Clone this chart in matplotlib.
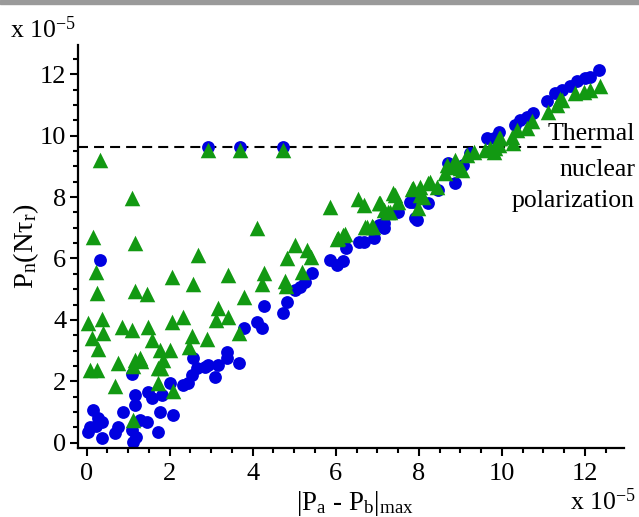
import numpy as np
import matplotlib.pyplot as plt
from matplotlib.ticker import MultipleLocator
from matplotlib.patches import Rectangle

plt.rcParams['font.family'] = ['Liberation Serif', 'DejaVu Serif']
plt.rcParams['mathtext.fontset'] = 'custom'
plt.rcParams['mathtext.rm'] = 'Liberation Serif'
plt.rcParams['mathtext.it'] = 'Liberation Serif:italic'

# blue circles
blue_x = [0.32, 1.08, 0.08, 0.16, 0.04, 0.28, 0.36, 0.22, 0.36, 0.68, 0.76, 0.87, 1.12, 1.08, 1.2,
          1.16, 1.16, 1.28, 1.45, 1.48, 1.57, 1.73, 1.77, 1.81, 2.0, 2.09, 2.33, 2.45, 2.57, 2.53,
          2.65, 2.85, 2.93, 3.09, 3.17, 3.37, 3.37, 3.68, 3.8, 4.1, 4.22, 4.27, 4.74, 4.82, 5.02,
          5.14, 5.26, 5.42, 2.93, 3.69, 4.74,
          5.85, 6.04, 6.18, 6.25, 6.55, 6.67, 6.91, 7.03, 7.15, 7.15, 7.51, 7.79, 7.87, 7.95, 7.91,
          8.23, 8.47, 8.71, 8.87, 9.07, 9.24, 9.64, 9.8, 9.92, 10.32, 10.44, 10.6, 10.76, 11.08,
          11.28, 11.45, 11.65, 11.82, 12.01, 12.13, 12.33]
blue_y = [5.95, 2.23, 0.52, 1.07, 0.36, 0.80, 0.68, 0.55, 0.14, 0.31, 0.52, 1.01, 0.03, 0.41, 0.2,
          1.55, 1.23, 0.74, 0.68, 1.66, 1.45, 0.36, 1.01, 1.55, 1.93, 0.90, 1.88, 1.93, 2.75, 2.2,
          2.42, 2.48, 2.53, 2.15, 2.53, 2.96, 2.75, 2.59, 3.73, 3.94, 3.73, 4.46, 4.23, 4.59, 4.97,
          5.08, 5.24, 5.52, 9.63, 9.63, 9.63,
          5.95, 5.79, 5.93, 6.33, 6.55, 6.55, 6.66, 7.09, 6.98, 7.15, 7.52, 7.85, 7.85, 7.25, 7.31,
          7.8, 8.23, 9.1, 8.47, 9.05, 9.43, 9.92, 9.92, 10.13, 10.35, 10.51, 10.62, 10.73, 11.11,
          11.38, 11.49, 11.6, 11.78, 11.87, 11.92, 12.14]

# green triangles
green_x = [0.32, 0.16, 1.08, 1.16, 4.1, 2.93, 3.69, 4.74, 2.69, 5.02, 5.3, 5.4, 4.83,
           0.22, 0.24, 0.04, 0.36, 0.14, 0.39, 0.28, 0.08, 0.24, 0.68, 0.76, 0.84, 1.08, 1.16,
           1.45, 1.48, 1.57, 1.12, 1.16, 1.28, 1.12, 1.32, 1.73, 1.73, 1.77, 1.85, 1.8, 2.0, 2.09,
           2.05, 2.05, 2.33, 2.57, 2.54, 2.47, 2.91, 3.17, 3.12, 3.41, 3.41, 3.68, 3.79, 4.26,
           4.22, 4.78, 4.8, 5.18,
           5.86, 6.02, 6.54, 6.67, 7.03, 6.71, 6.89, 6.22, 6.06, 6.18, 6.75, 6.87, 7.07, 7.15,
           7.27, 7.31, 7.39, 7.43, 7.51, 7.83, 7.87, 7.99, 8.03, 8.03, 8.11, 8.23, 8.27, 8.43,
           8.63, 8.67, 8.83, 8.87, 8.99, 9.04, 9.16, 9.32, 9.6, 9.72, 9.8, 9.84, 9.92, 9.92, 9.96,
           10.24, 10.28, 10.36, 10.6, 10.72, 11.12, 11.33, 11.45, 11.4, 11.77, 11.97, 12.13, 12.37]
green_y = [9.2, 6.71, 7.96, 6.51, 7.0, 9.53, 9.53, 9.53, 6.11, 6.44, 6.28, 6.06, 6.0,
           5.57, 4.89, 3.89, 4.02, 3.4, 3.56, 3.04, 2.37, 2.37, 1.85, 2.59, 3.76, 3.67, 4.94,
           4.84, 3.76, 3.35, 0.74, 2.69, 2.75, 2.5, 2.65, 1.93, 2.42, 3.02, 2.69, 2.45, 3.02, 1.68,
           3.94, 5.39, 4.08, 5.17, 3.48, 3.13, 3.37, 4.38, 4.0, 4.08, 5.46, 3.58, 4.74, 5.52,
           5.17, 5.28, 5.1, 5.57,
           7.69, 6.62, 7.93, 7.74, 7.8, 7.04, 7.04, 6.8, 6.66, 6.77, 7.01, 7.06, 7.8, 7.58,
           7.52, 7.52, 8.12, 8.07, 7.85, 8.25, 8.29, 7.63, 8.34, 8.07, 8.01, 8.45, 8.5, 8.34,
           8.78, 9.05, 8.99, 9.21, 8.94, 8.88, 9.37, 9.48, 9.53, 9.59, 9.48, 9.59, 9.7, 9.92, 9.93,
           9.97, 9.75, 10.19, 10.24, 10.46, 10.78, 11.0, 11.16, 11.2, 11.38, 11.43, 11.49, 11.6]

thermal = 9.63

fig = plt.figure(figsize=(6.39, 5.17), dpi=100)
fig.patches.append(Rectangle((0, 1 - 4 / 517.), 1, 4 / 517., transform=fig.transFigure,
                             color='#9a9a9a', zorder=0))
ax = fig.add_axes([0.122, 0.1335, 0.855, 0.7795])

ax.plot([-0.21, 12.54], [thermal, thermal], color='k', lw=1.5, dashes=(4.8, 2.9), zorder=1)
ax.scatter(blue_x, blue_y, s=85, marker='o', color='#0000e0', linewidths=0, zorder=2)
ax.scatter(green_x, green_y, s=125, marker='^', color='#129912', linewidths=0, zorder=3)

ax.set_xlim(-0.21, 12.95)
ax.set_ylim(-0.17, 12.95)
ax.xaxis.set_major_locator(MultipleLocator(2))
ax.xaxis.set_minor_locator(MultipleLocator(0.5))
ax.yaxis.set_major_locator(MultipleLocator(2))
ax.yaxis.set_minor_locator(MultipleLocator(0.5))
ax.spines['top'].set_visible(False)
ax.spines['right'].set_visible(False)
ax.spines['left'].set_linewidth(1.6)
ax.spines['bottom'].set_linewidth(1.6)
ax.tick_params(which='major', direction='out', length=5.5, width=1.5, labelsize=19)
ax.tick_params(which='minor', direction='out', length=3.5, width=1.5)
ax.tick_params(axis='x', pad=5)
ax.tick_params(axis='y', pad=3)

ax.set_xlabel(r'|P$_\mathrm{a}$ - P$_\mathrm{b}$|$_\mathrm{max}$', fontsize=19.5)
ax.xaxis.set_label_coords(0.507, -0.102)
ax.set_ylabel(r'P$_\mathrm{n}$(Nτ$_\mathrm{r}$)', fontsize=20.5)
ax.yaxis.set_label_coords(-0.068, 0.5)

fig.text(10 / 639., 1 - 38 / 517., r'x 10$^{\mathrm{-5}}$', fontsize=18.5, ha='left', va='baseline')
fig.text(636 / 639., 1 - 510 / 517., r'x 10$^{\mathrm{-5}}$', fontsize=18.5, ha='right', va='baseline')

ax.text(13.21, 9.86, 'Thermal', fontsize=18.5, ha='right', va='baseline', clip_on=False)
ax.text(13.21, 8.69, 'nuclear', fontsize=18.5, ha='right', va='baseline', clip_on=False)
ax.text(13.21, 7.68, 'polarization', fontsize=18.5, ha='right', va='baseline', clip_on=False)

plt.savefig('out.png', dpi=100)
